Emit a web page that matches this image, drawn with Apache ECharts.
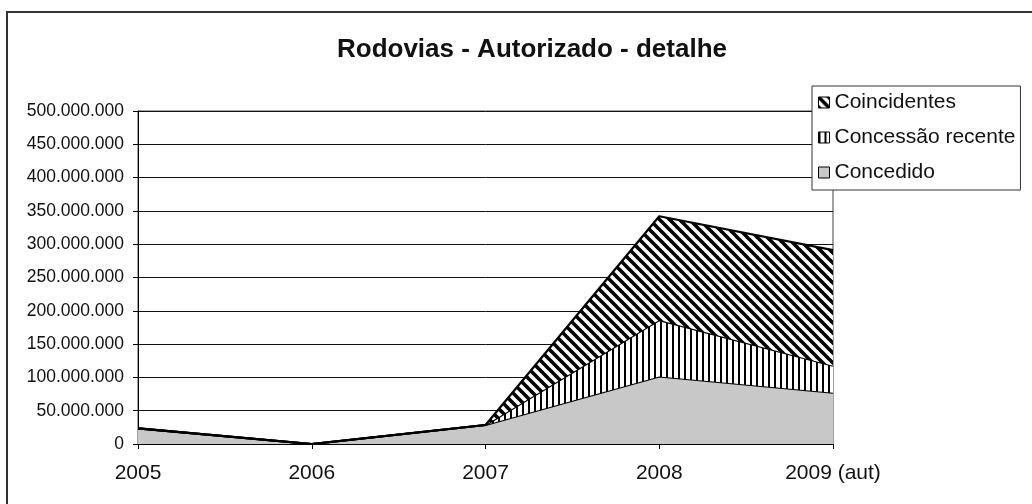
<!DOCTYPE html>
<html>
<head>
<meta charset="utf-8">
<title>Rodovias - Autorizado - detalhe</title>
<script src="https://cdn.jsdelivr.net/npm/echarts@6/dist/echarts.min.js"></script>
<style>
  html, body { margin: 0; padding: 0; background: #fff; }
  #main { width: 1032px; height: 504px; }
</style>
</head>
<body>
<div id="main"></div>
<script>
// dados
var anos = ['2005', '2006', '2007', '2008', '2009 (aut)']
var concedido = [23600000, 0, 28500000, 101500000, 77000000]
var concessaoRecente = [0, 0, 0, 84500000, 40500000]
var coincidentes = [0, 0, 0, 156000000, 173500000]

// padrões de preenchimento (hachuras)
function hachuraDiagonal() {
  var c = document.createElement('canvas')
  c.width = 10
  c.height = 10
  var ctx = c.getContext('2d')
  ctx.fillStyle = '#fff'
  ctx.fillRect(0, 0, 10, 10)
  ctx.strokeStyle = '#000'
  ctx.lineWidth = 3.6
  for (var k = -2; k <= 2; k++) {
    ctx.beginPath()
    ctx.moveTo(k * 10 - 5, -5)
    ctx.lineTo(k * 10 + 15, 15)
    ctx.stroke()
  }
  return c
}
function hachuraVertical() {
  var c = document.createElement('canvas')
  c.width = 6
  c.height = 6
  var ctx = c.getContext('2d')
  ctx.fillStyle = '#fff'
  ctx.fillRect(0, 0, 6, 6)
  ctx.fillStyle = '#000'
  ctx.fillRect(0, 0, 2, 6)
  return c
}
var padraoDiag = { image: hachuraDiagonal(), repeat: 'repeat' }
var padraoVert = { image: hachuraVertical(), repeat: 'repeat' }
var cinza = '#c8c8c8'

function formataNumero(v) {
  return String(v).replace(/\B(?=(\d{3})+(?!\d))/g, '.')
}

var fonte = '"Liberation Sans", Arial, sans-serif'
var myChart = echarts.init(document.getElementById('main'), null, { renderer: 'canvas' })

myChart.setOption({
  animation: false,
  backgroundColor: '#fff',
  textStyle: { fontFamily: fonte },
  title: {
    text: 'Rodovias - Autorizado - detalhe',
    left: 527,
    textAlign: 'center',
    top: 32,
    textStyle: { fontFamily: fonte, fontSize: 26, fontWeight: 'bold', color: '#111' }
  },
  // moldura externa do gráfico
  graphic: [
    {
      type: 'rect',
      shape: { x: 7, y: 12, width: 1100, height: 600 },
      style: { fill: 'none', stroke: '#333', lineWidth: 2 },
      silent: true
    }
  ],
  legend: {
    orient: 'vertical',
    left: 812,
    top: 86,
    padding: [6, 5, 7, 6],
    itemGap: 14,
    itemWidth: 11,
    itemHeight: 11,
    backgroundColor: '#fff',
    borderColor: '#333',
    borderWidth: 1,
    textStyle: { fontFamily: fonte, fontSize: 21, color: '#111' },
    data: [
      { name: 'Coincidentes', icon: 'rect', itemStyle: { color: padraoDiag, borderColor: '#000', borderWidth: 1 } },
      { name: 'Concessão recente', icon: 'rect', itemStyle: { color: padraoVert, borderColor: '#000', borderWidth: 1 } },
      { name: 'Concedido', icon: 'rect', itemStyle: { color: cinza, borderColor: '#000', borderWidth: 1 } }
    ]
  },
  grid: {
    left: 138,
    right: 199,
    top: 111,
    bottom: 60,
    show: true,
    borderColor: '#444',
    borderWidth: 1
  },
  xAxis: {
    type: 'category',
    data: anos,
    boundaryGap: false,
    axisLine: { lineStyle: { color: '#000', width: 1 } },
    axisTick: { show: true, length: 5, inside: false, lineStyle: { color: '#000' } },
    axisLabel: { fontFamily: fonte, fontSize: 21, color: '#111', margin: 19 },
    splitLine: { show: false }
  },
  yAxis: {
    type: 'value',
    min: 0,
    max: 500000000,
    interval: 50000000,
    axisLine: { show: true, lineStyle: { color: '#000', width: 1 } },
    axisTick: { show: true, length: 5, lineStyle: { color: '#000' } },
    axisLabel: { fontFamily: fonte, fontSize: 17.5, color: '#111', margin: 14, formatter: formataNumero },
    splitLine: { show: true, lineStyle: { color: '#111', width: 1 } }
  },
  series: [
    {
      name: 'Concedido',
      type: 'line',
      stack: 'total',
      data: concedido,
      symbol: 'none',
      lineStyle: { color: '#000', width: 2.2 },
      itemStyle: { color: cinza },
      areaStyle: { color: cinza, opacity: 1 },
      z: 2
    },
    {
      name: 'Concessão recente',
      type: 'line',
      stack: 'total',
      data: concessaoRecente,
      symbol: 'none',
      lineStyle: { color: '#000', width: 2.2 },
      itemStyle: { color: '#000' },
      areaStyle: { color: padraoVert, opacity: 1 },
      z: 3
    },
    {
      name: 'Coincidentes',
      type: 'line',
      stack: 'total',
      data: coincidentes,
      symbol: 'none',
      lineStyle: { color: '#000', width: 2.2 },
      itemStyle: { color: '#000' },
      areaStyle: { color: padraoDiag, opacity: 1 },
      z: 4
    }
  ]
})
</script>
</body>
</html>
